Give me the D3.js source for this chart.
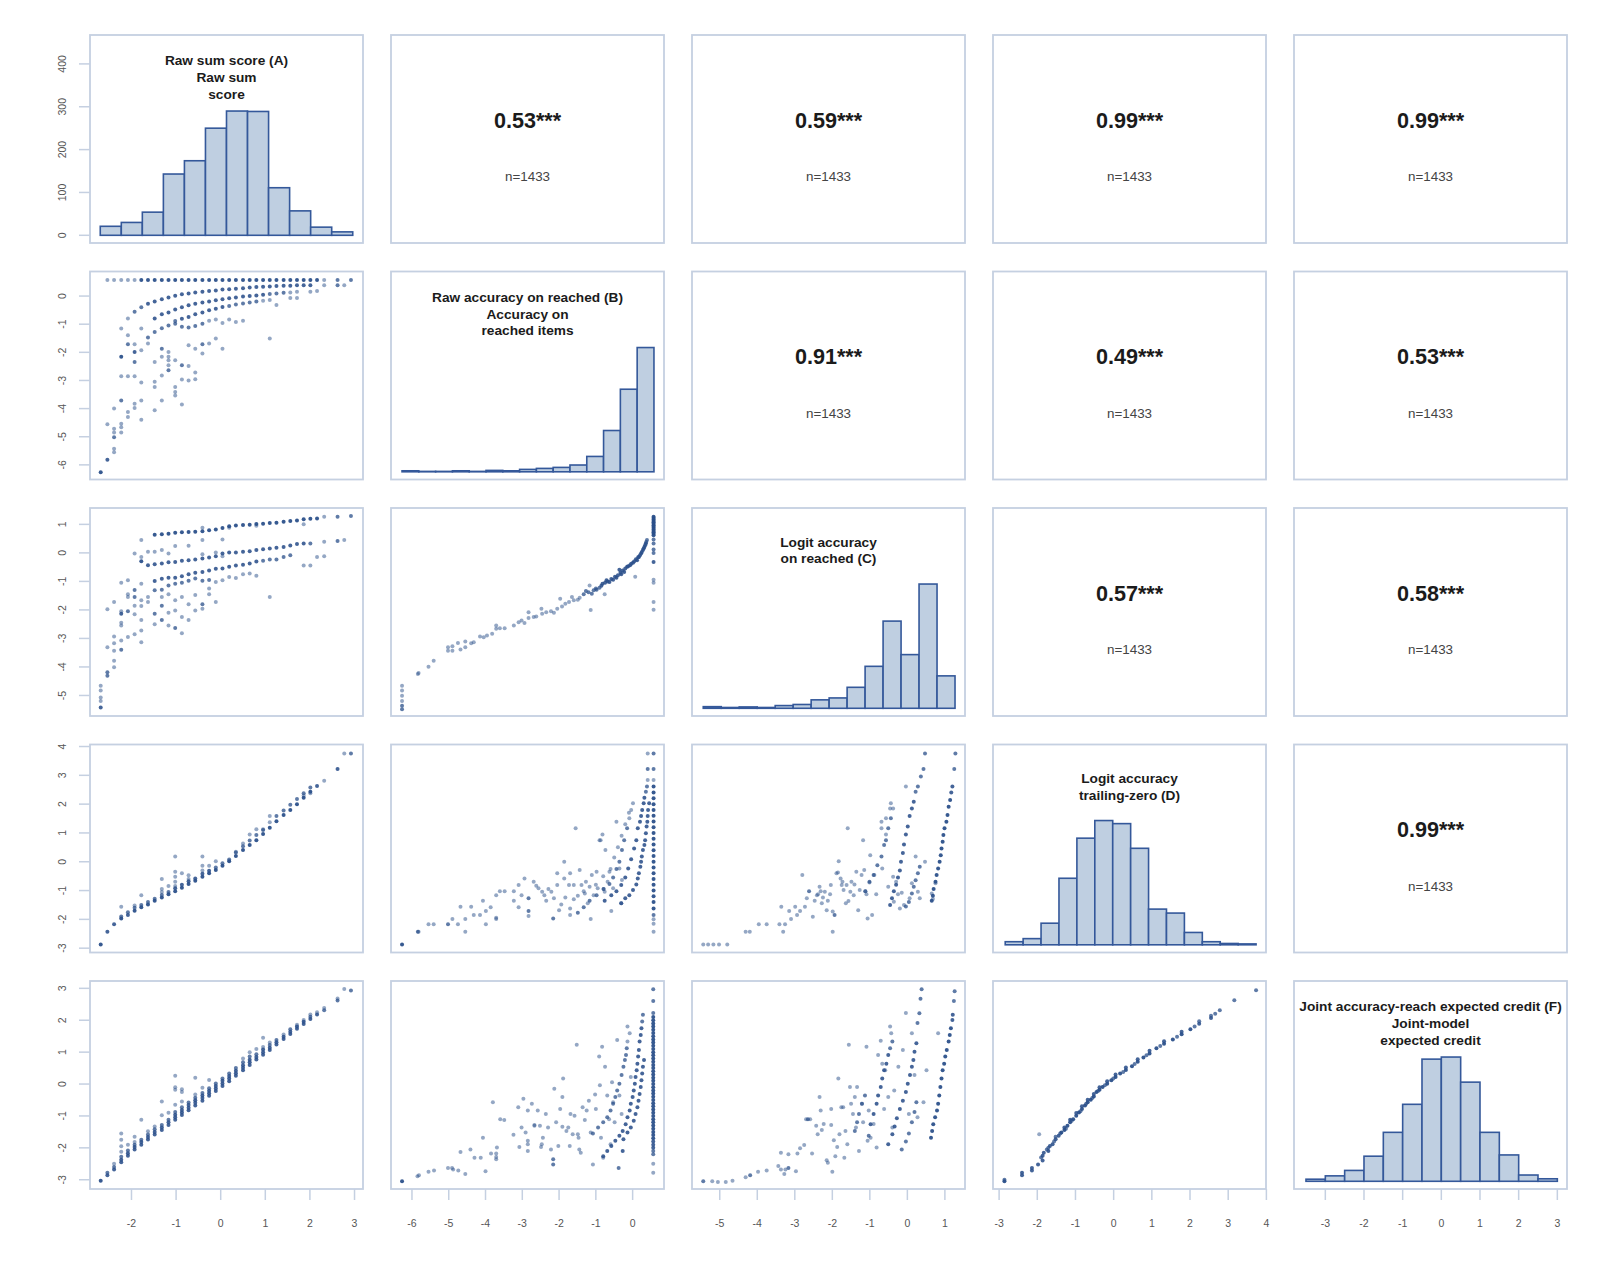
<!DOCTYPE html>
<html>
<head>
<meta charset="utf-8">
<script src="https://cdn.jsdelivr.net/npm/d3@7"></script>
<style>
body { margin: 0; background: #fff; }
svg text { font-family: "Liberation Sans", Arial, Helvetica, sans-serif; }
</style>
</head>
<body>
<div id="chart"></div>
<script>
// ---- data ----
var nObs = 1433;

var titles = [
    ["Raw sum score (A)", "Raw sum", "score"],
    ["Raw accuracy on reached (B)", "Accuracy on", "reached items"],
    ["Logit accuracy", "on reached (C)"],
    ["Logit accuracy", "trailing-zero (D)"],
    ["Joint accuracy-reach expected credit (F)", "Joint-model", "expected credit"]
];

// upper triangle, row by row
var corrText = [
    ["0.53***", "0.59***", "0.99***", "0.99***"],
    ["0.91***", "0.49***", "0.53***"],
    ["0.57***", "0.58***"],
    ["0.99***"]
];

// axis domains per column (x) and per row (y)
var xDomains = [[-2.93, 3.19], [-6.57, 0.853], [-5.74, 1.536], [-3.16, 3.99], [-3.81, 3.25]];
var yDomains = [null, [-6.52, 0.873], [-5.72, 1.574], [-3.15, 4.07], [-3.29, 3.23]];

var xTicks = [[-2, -1, 0, 1, 2, 3], [-6, -5, -4, -3, -2, -1, 0], [-5, -4, -3, -2, -1, 0, 1],
              [-3, -2, -1, 0, 1, 2, 3, 4], [-3, -2, -1, 0, 1, 2, 3]];
var yTicks = [[0, 100, 200, 300, 400], [-6, -5, -4, -3, -2, -1, 0], [-5, -4, -3, -2, -1, 0, 1],
              [-3, -2, -1, 0, 1, 2, 3, 4], [-3, -2, -1, 0, 1, 2, 3]];

// histograms on the diagonal: value range and bin counts
var histRanges = [[-2.70, 2.96], [-6.27, 0.58], [-5.44, 1.27], [-2.84, 3.73], [-3.5, 3.0]];
var histA = [21, 30, 54, 143, 174, 250, 290, 289, 111, 57, 19, 8];
var histB = [5, 2, 2, 5, 2, 7, 5, 12, 17, 22, 34, 77, 207, 414, 623];
var histC = [6, 3, 5, 3, 10, 14, 31, 38, 77, 154, 320, 197, 456, 119];
var histD = [7, 14, 49, 151, 242, 282, 275, 219, 81, 72, 28, 7, 3, 2];
var histF = [5, 13, 26, 60, 117, 184, 292, 297, 237, 117, 63, 15, 6];

// scatter points [x, y, overlap count]
var scatterAB = [
    [-2.54,0.57,1],[-2.39,0.57,1],[-2.23,0.57,1],[-2.08,0.57,1],[-1.93,0.57,1],
    [-1.78,0.57,4],[-1.63,0.57,4],[-1.48,0.57,4],[-1.32,0.57,4],[-1.17,0.57,4],[-1.02,0.57,4],[-0.87,0.57,4],
    [-0.72,0.57,4],[-0.57,0.57,4],[-0.41,0.57,4],[-0.26,0.57,4],[-0.11,0.57,4],[0.04,0.57,4],[0.19,0.57,4],
    [0.34,0.57,4],[0.50,0.57,4],[0.65,0.57,4],[0.80,0.57,4],[0.95,0.57,4],[1.10,0.57,4],[1.25,0.57,4],
    [1.41,0.57,4],[1.56,0.57,4],[1.71,0.57,4],[1.86,0.57,4],[2.01,0.57,4],[2.16,0.57,4],[2.32,0.57,1],
    [2.62,0.57,2],[2.92,0.57,2],
    [-2.08,-0.80,1],[-1.93,-0.56,2],[-1.78,-0.40,2],[-1.63,-0.27,3],[-1.48,-0.19,3],[-1.32,-0.11,3],
    [-1.17,-0.05,3],[-1.02,0.01,3],[-0.87,0.06,3],[-0.72,0.09,3],[-0.57,0.13,3],[-0.41,0.15,3],[-0.26,0.18,3],
    [-0.11,0.20,3],[0.04,0.23,3],[0.19,0.24,3],[0.34,0.26,3],[0.50,0.28,3],[0.65,0.30,3],[0.80,0.32,3],
    [0.95,0.33,3],[1.10,0.34,3],[1.25,0.36,3],[1.41,0.37,3],[1.56,0.37,3],[1.71,0.38,3],[1.86,0.38,3],
    [2.01,0.38,3],[2.32,0.38,1],[2.62,0.38,2],[2.77,0.38,1],
    [-1.48,-0.80,3],[-1.32,-0.65,3],[-1.17,-0.58,3],[-1.02,-0.48,3],[-0.87,-0.40,3],[-0.72,-0.33,3],
    [-0.57,-0.27,3],[-0.41,-0.23,3],[-0.26,-0.19,3],[-0.11,-0.15,3],[0.04,-0.11,3],[0.19,-0.08,3],
    [0.34,-0.05,3],[0.50,-0.02,3],[0.65,0.00,3],[0.80,0.02,3],[0.95,0.05,3],[1.10,0.07,2],[1.25,0.09,2],
    [1.41,0.12,2],[1.56,0.13,1],[1.71,0.15,1],[2.01,0.15,1],[2.16,0.18,1],
    [-1.02,-0.89,2],[-0.87,-0.81,3],[-0.72,-0.74,3],[-0.57,-0.65,3],[-0.41,-0.58,3],[-0.26,-0.50,3],
    [-0.11,-0.45,3],[0.04,-0.39,3],[0.19,-0.35,2],[0.34,-0.30,2],[0.50,-0.26,2],[0.65,-0.23,2],
    [0.80,-0.19,2],[0.95,-0.17,1],[1.10,-0.14,1],[1.25,-0.32,1],[1.56,-0.07,1],[1.71,-0.07,1],
    [-1.63,-1.47,2],[-1.48,-1.28,2],[-1.32,-1.14,2],[-1.17,-1.05,2],[-1.02,-0.98,2],[-0.87,-1.09,2],
    [-0.72,-1.12,2],[-0.57,-1.06,2],[-0.41,-0.98,2],[-0.26,-0.88,1],[-0.11,-0.83,1],[0.04,-0.96,1],
    [0.19,-0.83,1],[0.34,-0.92,1],[0.50,-0.88,1],
    [-2.23,-1.15,1],[-2.08,-1.39,1],[-2.08,-1.71,2],[-1.93,-1.71,1],[-2.23,-2.16,4],[-1.93,-1.99,3],
    [-1.93,-2.34,2],[-1.78,-1.15,1],[-1.78,-1.93,1],[-1.63,-1.69,1],[-1.48,-2.34,1],[-1.32,-1.87,2],
    [-1.32,-2.16,1],[-1.32,-2.82,1],[-1.17,-1.99,1],[-1.17,-2.16,1],[-1.17,-2.28,1],[-1.17,-2.46,1],
    [-1.17,-2.64,2],[-1.02,-2.28,1],[-1.02,-3.23,1],[-1.02,-3.41,1],[-1.02,-3.53,1],[-0.87,-2.46,2],
    [-0.87,-2.97,1],[-0.87,-3.85,1],[-0.72,-2.49,1],[-0.72,-3.0,1],[-0.57,-2.72,1],[-0.57,-2.96,1],
    [-0.41,-1.71,2],[-0.41,-2.04,1],[-0.26,-1.69,1],[-0.11,-1.51,1],[0.04,-1.87,1],[1.10,-1.51,1],
    [-0.57,-1.87,1],[-0.72,-1.75,1],
    [-2.54,-4.56,1],[-2.39,-4.00,1],[-2.39,-4.72,1],[-2.39,-4.85,1],[-2.39,-5.02,2],[-2.39,-5.43,1],
    [-2.39,-5.55,1],[-2.23,-2.85,1],[-2.23,-3.71,2],[-2.23,-4.54,1],[-2.23,-4.66,1],[-2.23,-4.85,1],
    [-2.08,-2.85,1],[-2.08,-4.12,1],[-2.08,-4.30,1],[-1.93,-2.85,1],[-1.93,-3.83,1],[-1.93,-3.98,1],
    [-1.78,-3.07,1],[-1.78,-3.71,1],[-1.78,-4.40,1],[-1.48,-3.05,1],[-1.48,-3.23,1],[-1.48,-4.06,1],
    [-1.32,-3.71,1],[-2.54,-5.82,3],[-2.69,-6.26,4]
];

var scatterAC = [
    [-1.48,0.64,4],[-1.32,0.65,4],[-1.17,0.67,4],[-1.02,0.71,4],[-0.87,0.72,4],[-0.72,0.73,4],[-0.57,0.74,4],
    [-0.41,0.76,4],[-0.26,0.79,4],[-0.11,0.82,4],[0.04,0.87,4],[0.19,0.93,4],[0.34,0.96,4],[0.50,0.98,4],
    [0.65,0.99,4],[0.80,1.01,4],[0.95,1.02,4],[1.10,1.05,4],[1.25,1.06,4],[1.41,1.09,4],[1.56,1.12,4],
    [1.71,1.14,4],[1.86,1.18,4],[2.01,1.20,4],[2.16,1.21,4],[2.32,1.27,1],[2.62,1.27,2],[2.92,1.29,2],
    [-1.78,0.45,1],[-1.02,0.24,1],[-0.72,0.25,1],[-0.41,0.45,1],[-0.41,0.88,1],[0.04,0.47,1],[0.19,0.88,1],
    [0.80,0.95,1],[1.86,1.0,1],
    [-1.78,-0.29,4],[-1.63,-0.43,3],[-1.48,-0.40,3],[-1.32,-0.37,3],[-1.17,-0.33,3],[-1.02,-0.32,3],
    [-0.87,-0.28,3],[-0.72,-0.26,3],[-0.57,-0.23,3],[-0.41,-0.20,3],[-0.26,-0.16,3],[-0.11,-0.12,3],
    [0.04,-0.02,3],[0.19,0.01,3],[0.34,0.01,3],[0.50,0.04,3],[0.65,0.06,3],[0.80,0.10,3],[0.95,0.13,3],
    [1.10,0.15,3],[1.25,0.18,3],[1.41,0.21,3],[1.56,0.26,3],[1.71,0.31,3],[1.86,0.33,3],[2.01,0.33,2],
    [2.32,0.39,1],[2.62,0.42,2],[2.77,0.45,1],
    [-1.78,-0.14,1],[-1.93,-0.02,1],[-1.63,0.04,1],[-1.48,0.04,1],[-1.32,0.10,1],[-1.17,-0.02,1],
    [-0.41,-0.05,1],[-0.11,0.01,1],[0.04,-0.12,1],
    [-1.48,-0.99,3],[-1.32,-0.91,3],[-1.17,-0.87,3],[-1.02,-0.87,3],[-0.87,-0.82,3],[-0.72,-0.75,3],
    [-0.57,-0.70,3],[-0.41,-0.67,3],[-0.26,-0.62,3],[-0.11,-0.56,3],[0.04,-0.55,3],[0.19,-0.49,3],
    [0.34,-0.44,3],[0.50,-0.42,3],[0.65,-0.37,3],[0.80,-0.30,3],[0.95,-0.28,2],[1.10,-0.23,2],
    [1.25,-0.23,2],[1.41,-0.14,2],[1.56,-0.08,2],[1.86,-0.44,1],[2.01,-0.44,1],[2.16,-0.14,1],[2.32,-0.12,1],
    [-1.48,-1.31,2],[-1.32,-1.29,2],[-1.17,-1.14,2],[-1.02,-1.08,2],[-0.87,-1.05,2],[-0.72,-0.98,2],
    [-0.57,-0.90,2],[-0.41,-0.98,2],[-0.26,-0.95,2],[-0.11,-1.02,1],[0.04,-0.96,1],[0.19,-0.85,1],
    [0.34,-0.88,1],[0.50,-0.75,1],[0.65,-0.72,1],[0.80,-0.80,1],[1.10,-1.55,1],
    [-2.54,-1.98,1],[-2.39,-1.72,1],[-2.23,-1.05,1],[-2.23,-2.05,1],[-2.23,-2.13,3],[-2.23,-2.45,1],
    [-2.23,-2.55,1],[-2.08,-0.96,1],[-2.08,-1.45,1],[-2.08,-1.55,1],[-2.08,-2.05,2],[-1.93,-1.30,2],
    [-1.93,-1.55,2],[-1.93,-1.85,1],[-1.93,-2.15,1],[-1.78,-1.08,1],[-1.78,-1.66,1],[-1.78,-1.86,1],
    [-1.78,-2.35,1],[-1.63,-1.55,1],[-1.63,-1.72,1],[-1.48,-2.13,2],[-1.48,-2.50,1],[-1.32,-1.55,1],
    [-1.32,-1.85,2],[-1.32,-2.35,2],[-1.17,-1.45,1],[-1.17,-2.10,1],[-1.17,-2.55,1],[-1.02,-1.66,1],
    [-1.02,-2.02,1],[-1.02,-2.63,2],[-0.87,-1.55,1],[-0.87,-2.25,1],[-0.87,-2.82,1],[-0.72,-1.80,1],
    [-0.72,-2.35,1],[-0.57,-1.48,1],[-0.57,-2.02,1],[-0.41,-1.80,2],[-0.41,-1.96,1],[-0.26,-1.25,1],
    [-0.26,-1.45,1],[-0.11,-1.72,1],
    [-2.54,-3.31,1],[-2.39,-2.93,1],[-2.39,-3.17,1],[-2.39,-3.43,1],[-2.39,-3.78,1],[-2.39,-4.01,1],
    [-2.23,-3.07,1],[-2.23,-3.40,2],[-2.08,-2.95,1],[-1.93,-2.85,1],[-1.78,-3.13,1],[-1.78,-2.72,1],
    [-2.54,-4.19,2],[-2.54,-4.31,2],[-2.69,-4.66,1],[-2.69,-4.83,1],[-2.69,-5.07,1],[-2.69,-5.19,1],[-2.69,-5.42,3]
];

var scatterAD = [
    [-2.69,-2.87,4],[-2.54,-2.43,3],[-2.39,-2.17,3],[-2.23,-1.97,4],[-2.08,-1.85,3],[-1.93,-1.70,4],
    [-1.78,-1.58,4],[-1.63,-1.48,4],[-1.48,-1.35,4],[-1.32,-1.24,4],[-1.17,-1.13,4],[-1.02,-1.02,4],
    [-0.87,-0.90,4],[-0.72,-0.77,4],[-0.57,-0.66,4],[-0.41,-0.52,4],[-0.26,-0.40,4],[-0.11,-0.29,4],
    [0.04,-0.14,4],[0.19,0.02,4],[0.34,0.20,4],[0.50,0.41,4],[0.65,0.58,4],[0.80,0.75,4],[0.95,0.96,4],
    [1.10,1.18,4],[1.25,1.41,4],[1.41,1.62,4],[1.56,1.80,4],[1.71,2.00,4],[1.86,2.22,4],[2.01,2.43,4],
    [2.16,2.63,3],[2.32,2.81,1],[2.62,3.22,3],[2.77,3.76,1],[2.92,3.76,2],
    [-2.23,-1.90,2],[-2.08,-1.75,2],[-1.93,-1.60,2],[-1.78,-1.50,2],[-1.63,-1.40,2],[-1.48,-1.28,2],
    [-1.32,-1.15,2],[-1.17,-1.05,2],[-1.02,-0.92,3],[-0.87,-0.80,3],[-0.72,-0.68,3],[-0.57,-0.58,3],
    [-0.41,-0.42,3],[-0.26,-0.31,3],[-0.11,-0.20,2],[0.04,-0.05,2],[0.19,0.08,2],[0.34,0.32,2],
    [0.50,0.54,2],[0.65,0.74,2],[0.80,0.93,2],[0.95,1.10,2],[1.10,1.37,1],[1.10,1.59,1],[1.25,1.59,2],
    [1.41,1.78,2],[1.56,1.98,2],[1.71,2.18,2],[1.86,2.38,2],[2.01,2.58,2],
    [-2.23,-1.56,1],[-1.78,-1.16,1],[-1.93,-1.52,1],[-1.32,-0.60,1],[-1.32,-0.95,1],[-1.32,-1.05,1],
    [-1.17,-0.84,1],[-1.02,0.18,1],[-1.02,-0.35,1],[-1.02,-0.52,1],[-1.02,-0.69,1],[-1.02,-0.84,1],
    [-0.87,-0.40,1],[-0.72,-0.47,1],[-0.72,-0.60,1],[-0.41,0.18,1],[-0.41,-0.14,1],[-0.41,-0.30,1],
    [-0.26,-0.14,1],[-0.11,0.02,1],[0.34,0.35,1],[0.50,0.63,1],[0.65,0.95,1],[0.80,1.13,1],[0.95,1.13,1],
    [1.86,2.30,1],[2.01,2.38,1]
];

var scatterAF = [
    [-2.69,-3.03,4],[-2.54,-2.86,3],[-2.54,-2.78,2],[-2.39,-2.68,3],[-2.39,-2.60,2],[-2.39,-2.50,1],
    [-2.23,-2.45,3],[-2.23,-2.37,3],[-2.23,-2.28,2],[-2.23,-2.12,1],[-2.23,-1.95,1],[-2.23,-1.75,1],[-2.23,-1.55,1],
    [-2.08,-2.25,3],[-2.08,-2.17,3],[-2.08,-2.08,2],[-2.08,-1.90,1],
    [-1.93,-2.05,3],[-1.93,-1.97,3],[-1.93,-1.90,2],[-1.93,-1.82,1],[-1.93,-1.65,1],
    [-1.78,-1.90,3],[-1.78,-1.82,3],[-1.78,-1.75,2],[-1.78,-1.12,1],
    [-1.63,-1.74,3],[-1.63,-1.66,3],[-1.63,-1.58,2],[-1.63,-1.48,1],
    [-1.48,-1.58,3],[-1.48,-1.50,3],[-1.48,-1.42,2],[-1.48,-1.33,1],
    [-1.32,-1.44,3],[-1.32,-1.36,3],[-1.32,-1.28,2],[-1.32,-0.98,1],[-1.32,-0.55,1],
    [-1.17,-1.28,3],[-1.17,-1.20,3],[-1.17,-1.12,2],[-1.17,-0.90,1],
    [-1.02,-1.12,3],[-1.02,-1.04,3],[-1.02,-0.96,3],[-1.02,-0.88,2],[-1.02,-0.65,1],[-1.02,-0.18,1],[-1.02,-0.10,1],[-1.02,0.26,1],
    [-0.87,-0.97,3],[-0.87,-0.89,3],[-0.87,-0.81,3],[-0.87,-0.73,2],[-0.87,-0.55,1],[-0.87,-0.25,1],[-0.87,-0.16,1],
    [-0.72,-0.82,3],[-0.72,-0.74,3],[-0.72,-0.66,3],[-0.72,-0.58,2],
    [-0.57,-0.67,3],[-0.57,-0.59,3],[-0.57,-0.51,3],[-0.57,-0.43,2],[-0.57,-0.33,1],[-0.57,0.20,1],
    [-0.41,-0.52,3],[-0.41,-0.44,3],[-0.41,-0.36,3],[-0.41,-0.28,2],[-0.41,-0.12,1],
    [-0.26,-0.37,3],[-0.26,-0.29,3],[-0.26,-0.21,3],[-0.26,-0.13,2],[-0.26,0.13,1],
    [-0.11,-0.22,3],[-0.11,-0.14,3],[-0.11,-0.06,3],[-0.11,0.02,2],
    [0.04,-0.06,3],[0.04,0.02,3],[0.04,0.10,3],[0.04,0.17,2],
    [0.19,0.09,3],[0.19,0.17,3],[0.19,0.25,3],[0.19,0.33,2],
    [0.34,0.26,3],[0.34,0.34,3],[0.34,0.42,3],[0.34,0.50,2],
    [0.50,0.43,3],[0.50,0.51,3],[0.50,0.59,3],[0.50,0.68,2],[0.50,0.80,1],
    [0.65,0.60,3],[0.65,0.68,3],[0.65,0.76,3],[0.65,0.86,2],[0.65,1.00,1],
    [0.80,0.77,3],[0.80,0.85,3],[0.80,0.93,2],[0.80,1.10,1],
    [0.95,0.92,3],[0.95,1.00,3],[0.95,1.08,3],[0.95,1.16,1],[0.95,1.45,1],
    [1.10,1.07,3],[1.10,1.14,3],[1.10,1.22,2],[1.10,1.30,1],
    [1.25,1.24,3],[1.25,1.31,3],[1.25,1.38,2],
    [1.41,1.41,3],[1.41,1.48,3],[1.41,1.55,1],
    [1.56,1.57,3],[1.56,1.64,3],[1.56,1.72,2],
    [1.71,1.73,3],[1.71,1.80,3],[1.71,1.86,1],
    [1.86,1.88,3],[1.86,1.95,3],[1.86,2.01,1],
    [2.01,2.04,3],[2.01,2.11,2],[2.01,2.18,1],
    [2.16,2.18,3],[2.16,2.25,1],[2.32,2.31,2],[2.32,2.38,1],
    [2.62,2.62,2],[2.62,2.68,1],[2.77,2.98,1],[2.92,2.93,2]
];

var scatterBC = [
    [-6.27,-4.66,1],[-6.27,-4.83,1],[-6.27,-5.01,1],[-6.27,-5.19,1],[-6.27,-5.36,2],[-6.27,-5.48,2],
    [-5.84,-4.25,1],[-5.82,-4.21,1],[-5.55,-3.99,1],[-5.41,-3.78,1],
    [-5.02,-3.31,1],[-5.02,-3.43,1],[-4.90,-3.27,1],[-4.90,-3.43,1],[-4.75,-3.16,1],[-4.68,-3.39,1],
    [-4.55,-3.11,1],[-4.55,-3.31,1],[-4.39,-3.17,1],[-4.32,-3.13,1],
    [-4.15,-2.93,1],[-4.05,-2.96,1],[-3.96,-2.90,1],[-3.82,-2.84,1],[-3.71,-2.55,1],[-3.71,-2.66,1],
    [-3.61,-2.64,1],[-3.48,-2.64,1],
    [-3.23,-2.55,1],[-3.10,-2.43,1],[-3.02,-2.37,1],[-2.94,-2.46,1],[-2.83,-2.08,1],[-2.83,-2.28,1],
    [-2.69,-2.25,1],[-2.62,-2.23,1],[-2.48,-1.96,1],[-2.46,-2.13,1],[-2.35,-2.08,1],[-2.22,-2.05,1],
    [-2.14,-2.10,1],[-2.05,-1.96,1],[-1.97,-1.61,1],[-1.92,-1.88,1],[-1.83,-1.78,1],[-1.73,-1.72,1],
    [-1.65,-1.55,1],[-1.60,-1.66,1],[-1.49,-1.64,1],[-1.44,-1.57,1],[-1.33,-1.45,2],[-1.27,-1.34,2],
    [-1.17,-1.14,1],[-1.14,-2.0,1],[-1.11,-1.43,2],[-1.06,-1.31,2],[-0.98,-1.29,2],[-0.90,-1.22,2],
    [-0.82,-1.08,3],[-0.76,-1.45,1],[-0.71,-0.96,3],[-0.63,-1.02,3],[-0.53,-0.94,3],[-0.44,-0.87,3],
    [-0.36,-0.59,3],[-0.31,-0.75,3],[-0.23,-0.67,3],[-0.15,-0.49,3],[-0.07,-0.43,3],[0.01,-0.35,3],
    [0.07,-0.84,1],[0.12,-0.26,3],[0.17,-0.14,3],[0.23,-0.02,3],[0.28,0.10,3],[0.32,0.21,3],
    [0.36,0.33,3],[0.39,0.45,2],
    [-1.20,-1.38,2],[-1.00,-1.25,2],[-0.85,-1.15,3],[-0.75,-1.05,3],[-0.68,-1.00,3],[-0.58,-0.92,3],
    [-0.48,-0.84,3],[-0.40,-0.78,3],[-0.33,-0.70,3],[-0.27,-0.62,3],[-0.20,-0.55,3],[-0.12,-0.47,3],
    [-0.04,-0.38,3],[0.04,-0.30,3],[0.09,-0.22,3],[0.15,-0.15,3],[0.20,-0.08,3],[0.25,0.03,3],
    [0.30,0.15,3],[0.34,0.27,3],[0.37,0.38,2],
    [0.57,1.27,4],[0.57,1.22,4],[0.57,1.17,4],[0.57,1.12,4],[0.57,1.07,4],[0.57,1.02,4],[0.57,0.97,4],
    [0.57,0.92,4],[0.57,0.87,4],[0.57,0.82,4],[0.57,0.77,4],[0.57,0.72,4],[0.57,0.67,4],[0.57,0.62,4],
    [0.57,0.47,2],[0.57,0.33,2],[0.57,0.12,2],[0.57,0.0,2],[0.57,-0.32,3],[0.57,-0.94,1],[0.57,-1.05,1],
    [0.57,-1.72,1],[0.57,-1.99,1]
];

var scatterBD = [
    [-6.27,-2.87,4],[-5.84,-2.43,2],[-5.82,-2.43,1],[-5.55,-2.17,1],[-5.41,-2.17,1],
    [-5.02,-2.17,2],[-4.90,-1.99,1],[-4.75,-2.17,1],[-4.68,-1.56,1],[-4.55,-1.99,1],[-4.55,-2.43,1],
    [-4.39,-1.56,1],[-4.32,-1.85,1],[-4.15,-1.85,1],[-4.07,-1.35,1],[-3.99,-1.71,1],[-3.99,-2.17,1],
    [-3.86,-1.58,1],[-3.71,-1.16,1],[-3.71,-1.99,1],[-3.71,-1.94,1],[-3.61,-1.02,1],[-3.48,-1.02,1],
    [-3.23,-1.02,1],[-3.23,-1.35,1],[-3.10,-0.81,1],[-3.10,-1.58,1],[-3.02,-1.16,1],[-2.94,-0.58,1],
    [-2.83,-1.27,2],[-2.83,-1.71,2],[-2.83,-1.88,1],[-2.69,-0.69,1],[-2.62,-0.83,1],[-2.56,-0.92,1],
    [-2.46,-1.04,1],[-2.40,-1.16,1],[-2.35,-1.35,1],[-2.29,-0.95,1],[-2.21,-1.04,1],[-2.16,-1.97,2],
    [-2.14,-1.27,1],[-2.05,-0.40,1],[-2.05,-0.81,1],[-2.00,-1.68,1],[-1.94,-1.48,1],[-1.86,0.0,1],
    [-1.86,-0.58,1],[-1.83,-1.24,1],[-1.73,-0.81,1],[-1.70,-0.40,1],[-1.70,-1.62,1],[-1.70,-1.85,1],
    [-1.60,-0.81,1],[-1.55,1.16,1],[-1.49,-1.18,1],[-1.44,-0.29,1],[-1.39,-0.81,1],[-1.33,-1.02,1],
    [-1.27,-0.69,1],[-1.22,-1.44,1],[-1.17,-0.87,1],[-1.14,-1.99,1],[-1.11,-0.46,1],[-1.06,-1.16,1],
    [-0.98,-0.35,1],[-0.95,-0.92,1],[-0.90,0.75,1],[-0.87,0.75,1],[-0.82,0.95,1],[-0.79,-0.95,1],
    [-0.76,-1.04,1],[-0.74,0.41,1],[-0.68,-0.69,1],[-0.63,-0.35,1],[-0.58,-1.71,1],[-0.53,-0.92,1],
    [-0.44,1.39,1],[-0.36,-0.23,1],[-0.31,-1.44,1],[-0.29,-0.63,1],
    [-1.49,-1.77,2],[-1.33,-1.58,2],[-1.17,-1.35,2],[-0.98,-1.16,2],[-0.79,-0.95,2],[-0.63,-0.77,2],
    [-0.53,-0.55,2],[-0.44,-0.25,2],[-0.36,0.0,2],[-0.29,0.41,2],[-0.23,0.75,2],[-0.15,1.16,2],
    [-0.09,1.51,1],[-0.04,1.80,1],[0.01,2.03,1],
    [-0.76,-1.35,3],[-0.58,-1.16,3],[-0.44,-1.02,3],[-0.31,-0.81,3],[-0.20,-0.55,3],[-0.12,-0.23,3],
    [-0.04,0.09,3],[0.04,0.46,3],[0.10,0.75,3],[0.14,1.16,3],[0.20,1.39,3],[0.23,1.59,3],[0.26,1.80,3],
    [0.30,2.03,3],[0.32,2.22,3],[0.36,2.43,2],[0.39,2.61,2],[0.41,2.84,1],[0.41,3.22,2],[0.41,3.76,1],
    [-0.31,-1.44,3],[-0.20,-1.27,3],[-0.09,-1.16,3],[0.01,-0.98,3],[0.10,-0.79,3],[0.14,-0.58,3],
    [0.17,-0.40,3],[0.21,-0.17,3],[0.23,0.0,3],[0.25,0.18,3],[0.28,0.41,3],[0.32,0.58,3],[0.34,0.75,3],
    [0.36,0.99,3],[0.38,1.22,3],[0.40,1.39,3],[0.41,1.59,3],[0.42,1.80,3],[0.45,2.03,3],
    [-1.60,-1.30,1],[-1.30,-1.10,1],[-1.0,-0.80,1],[-0.80,-0.50,1],[-0.60,-0.25,1],[-0.50,0.15,1],
    [-0.40,0.50,1],[-0.30,0.90,1],[-0.20,1.30,1],[-0.10,1.70,1],
    [0.57,2.61,4],[0.57,2.40,4],[0.57,2.20,4],[0.57,2.00,4],[0.57,1.80,4],[0.57,1.60,4],[0.57,1.40,4],
    [0.57,1.20,4],[0.57,1.00,4],[0.57,0.80,4],[0.57,0.60,4],[0.57,0.40,4],[0.57,0.20,4],[0.57,0.0,4],
    [0.57,-0.20,4],[0.57,-0.40,4],[0.57,-0.60,4],[0.57,-0.80,4],[0.57,-1.00,4],[0.57,-1.20,4],
    [0.57,-1.40,4],[0.57,-1.62,4],[0.57,-1.85,2],[0.57,-2.0,1],[0.57,-2.15,1],[0.57,-2.43,1],
    [0.57,2.84,1],[0.57,3.22,2],[0.57,3.76,2]
];

var scatterBF = [
    [-6.27,-3.05,4],[-5.85,-2.89,1],[-5.81,-2.86,1],[-5.55,-2.75,1],[-5.40,-2.71,1],[-5.02,-2.63,1],
    [-4.91,-2.63,1],[-4.88,-2.68,1],[-4.74,-2.71,1],[-4.55,-2.82,1],
    [-4.68,-2.13,1],[-4.41,-2.05,1],[-4.30,-2.31,1],[-4.13,-2.31,1],[-4.07,-1.68,1],[-4.00,-2.73,1],
    [-3.85,-2.18,1],[-3.80,-0.57,1],[-3.71,-2.18,1],[-3.71,-2.29,1],[-3.71,-2.36,1],[-3.69,-1.99,1],
    [-3.60,-1.10,1],[-3.49,-1.13,1],[-3.24,-1.59,1],[-3.11,-0.73,1],[-3.08,-1.97,1],[-3.02,-1.36,1],
    [-2.97,-0.46,1],[-2.91,-1.52,1],[-2.85,-0.83,1],[-2.85,-1.78,1],[-2.85,-1.89,1],[-2.85,-2.10,1],
    [-2.74,-0.62,1],[-2.67,-1.28,1],[-2.67,-1.31,1],[-2.58,-0.83,1],[-2.52,-1.31,1],[-2.49,-1.97,1],
    [-2.47,-1.89,1],[-2.44,-1.68,1],[-2.36,-0.94,1],[-2.30,-1.36,1],[-2.22,-2.05,1],[-2.16,-2.52,2],
    [-2.16,-2.36,2],[-2.13,-0.15,1],[-2.08,-1.20,1],[-2.02,-1.94,1],[-1.97,-0.78,1],[-1.91,-0.41,1],
    [-1.91,-1.34,1],[-1.89,0.17,1],[-1.80,-1.47,1],[-1.75,-1.36,1],[-1.71,-1.94,1],[-1.69,-0.94,1],
    [-1.63,-1.57,1],[-1.58,-0.99,1],[-1.52,1.23,1],[-1.49,-1.57,1],[-1.47,-1.68,1],[-1.45,-2.05,1],
    [-1.41,-2.15,1],[-1.36,-0.73,1],[-1.30,-1.13,1],[-1.25,-0.83,1],[-1.19,-0.52,1],[-1.14,-1.52,1],
    [-1.08,-2.52,1],[-1.02,-0.33,1],[-1.00,-0.78,1],[-0.91,0.86,1],[-0.89,-0.04,1],[-0.86,-1.68,1],
    [-0.83,1.17,1],[-0.80,-2.31,1],[-0.75,0.54,1],[-0.69,-0.36,1],[-0.64,-1.10,1],[-0.60,-1.89,1],
    [-0.56,0.06,1],[-0.53,-0.57,1],[-0.49,-1.20,1],[-0.42,1.38,1],[-0.36,-0.36,1],[-0.30,-0.94,1],
    [-0.14,1.80,1],[-0.08,1.59,1],[-0.05,0.22,1],
    [-1.08,-1.55,2],[-0.94,-1.36,2],[-0.80,-1.20,2],[-0.69,-1.04,2],[-0.60,-0.83,2],[-0.53,-0.62,2],
    [-0.47,-0.41,2],[-0.42,-0.20,2],[-0.36,0.01,2],[-0.30,0.28,2],[-0.25,0.54,2],[-0.21,0.75,2],
    [-0.18,0.91,2],[-0.16,1.12,2],[-0.14,1.33,1],
    [-0.80,-2.26,3],[-0.69,-2.10,3],[-0.58,-1.94,3],[-0.47,-1.78,3],[-0.36,-1.62,3],[-0.27,-1.47,3],
    [-0.19,-1.26,3],[-0.14,-1.04,3],[-0.08,-0.83,3],[-0.05,-0.62,3],[0.00,-0.41,3],[0.03,-0.20,3],
    [0.06,0.01,3],[0.08,0.22,3],[0.11,0.43,3],[0.13,0.64,3],[0.15,0.86,3],[0.17,1.07,3],[0.19,1.33,3],
    [0.22,1.54,3],[0.24,1.75,3],[0.26,1.96,2],[0.28,2.17,2],
    [-0.38,-2.63,2],[-0.27,-2.10,3],[-0.25,-1.73,3],[-0.14,-1.52,3],[-0.05,-1.36,3],[0.03,-1.15,3],
    [0.08,-0.94,3],[0.13,-0.73,3],[0.16,-0.52,3],[0.19,-0.31,3],[0.22,-0.09,3],[0.24,0.12,3],
    [0.26,0.33,3],[0.28,0.54,3],[0.31,0.75,3],
    [0.56,2.1,4],[0.56,2.0,4],[0.56,1.9,4],[0.56,1.8,4],[0.56,1.7,4],[0.56,1.6,4],[0.56,1.5,4],
    [0.56,1.4,4],[0.56,1.3,4],[0.56,1.2,4],[0.56,1.1,4],[0.56,1.0,4],[0.56,0.9,4],[0.56,0.8,4],
    [0.56,0.7,4],[0.56,0.6,4],[0.56,0.5,4],[0.56,0.4,4],[0.56,0.3,4],[0.56,0.2,4],[0.56,0.1,4],
    [0.56,0.0,4],[0.56,-0.1,4],[0.56,-0.2,4],[0.56,-0.3,4],[0.56,-0.4,4],[0.56,-0.5,4],[0.56,-0.6,4],
    [0.56,-0.7,4],[0.56,-0.8,4],[0.56,-0.9,4],[0.56,-1.0,4],[0.56,-1.1,4],[0.56,-1.2,4],[0.56,-1.3,4],
    [0.56,-1.4,4],[0.56,-1.5,4],[0.56,-1.6,4],[0.56,-1.7,4],[0.56,-1.8,3],[0.56,-1.9,3],[0.56,-2.0,3],
    [0.56,-2.1,2],[0.56,-2.2,2],[0.56,-2.50,1],[0.56,-2.78,1],[0.56,2.23,2],[0.56,2.60,2],[0.56,2.97,2]
];

var scatterCD = [
    [-5.44,-2.87,1],[-5.31,-2.87,1],[-5.17,-2.87,1],[-5.02,-2.87,1],[-4.80,-2.87,1],[-4.20,-2.43,1],[-4.31,-2.43,1],
    [-3.96,-2.17,1],[-3.75,-2.17,1],[-3.41,-2.17,1],[-3.31,-2.43,1],[-3.26,-2.17,1],[-3.10,-1.99,1],
    [-3.36,-1.56,1],[-3.15,-1.71,1],[-2.99,-1.56,1],[-2.94,-1.85,1],[-2.86,-1.71,1],[-2.80,-0.46,1],
    [-2.73,-1.56,1],[-2.68,-1.27,1],[-2.62,-1.02,2],[-2.52,-1.91,1],[-2.47,-1.35,1],[-2.41,-1.16,1],
    [-2.38,-1.13,1],[-2.34,-0.87,1],[-2.31,-1.02,1],[-2.28,-1.44,1],[-2.25,-1.24,1],[-2.20,-1.04,1],
    [-2.15,-1.68,1],[-2.12,-1.35,1],[-2.06,-1.13,1],[-2.04,-0.81,1],[-1.99,-2.43,1],[-1.99,-1.73,1],
    [-1.94,-1.85,2],[-1.89,-0.40,1],[-1.85,-0.37,1],[-1.83,0.02,1],[-1.78,-0.58,1],[-1.75,-0.81,1],
    [-1.73,-0.69,1],[-1.70,-0.98,1],[-1.64,-1.44,1],[-1.62,-0.81,1],[-1.59,1.16,1],[-1.57,-1.36,1],
    [-1.52,-1.04,1],[-1.49,-0.69,1],[-1.43,-1.16,1],[-1.41,-0.79,1],[-1.36,-0.35,1],[-1.31,-1.68,1],
    [-1.27,-0.98,1],[-1.22,-0.46,1],[-1.18,0.75,1],[-1.15,-0.29,1],[-1.12,-1.02,1],[-1.09,-1.13,1],
    [-1.06,-1.97,1],[-1.01,-0.72,1],[-0.99,0.23,1],[-0.94,-1.85,1],[-0.88,-0.46,1],[-0.83,-1.13,1],
    [-0.69,1.39,1],[-0.67,-0.23,1],[-0.57,0.95,1],[-0.51,-0.87,1],[-0.44,2.03,1],[-0.38,-0.52,1],
    [-0.36,-1.39,1],[-0.30,-0.69,1],[-0.25,-1.13,1],[-0.20,-1.62,1],[-0.15,-1.08,1],[-0.09,-1.50,1],
    [-0.04,2.61,1],[0.06,-1.27,1],[0.12,-0.75,1],[0.22,0.18,1],[0.28,-1.04,1],[0.33,-1.27,1],
    [0.47,0.0,1],[0.65,-1.10,1],[0.68,-1.29,1],[0.75,-0.75,1],
    [-1.12,-1.02,2],[-1.01,-0.69,2],[-0.90,-0.46,2],[-0.80,-0.12,2],[-0.69,0.18,2],[-0.62,0.58,2],
    [-0.57,0.75,2],[-0.51,1.16,2],[-0.44,1.51,2],[-0.38,1.85,1],
    [-0.46,-1.50,3],[-0.41,-1.27,3],[-0.36,-1.02,3],[-0.30,-0.80,3],[-0.25,-0.55,3],[-0.20,-0.30,3],
    [-0.17,0.0,3],[-0.12,0.30,3],[-0.09,0.60,3],[-0.04,0.95,3],[0.01,1.22,3],[0.06,1.59,3],[0.12,1.85,3],
    [0.17,2.08,3],[0.22,2.43,2],[0.28,2.61,2],[0.36,2.96,2],[0.43,3.22,2],[0.47,3.76,2],
    [-0.04,-1.55,2],[0.04,-1.40,2],[0.12,-1.10,2],[0.17,-0.87,2],[0.22,-0.64,2],[0.28,-0.40,2],[0.33,-0.17,2],
    [0.65,-1.35,4],[0.68,-1.18,4],[0.70,-0.95,4],[0.75,-0.69,4],[0.78,-0.46,4],[0.82,-0.23,4],[0.86,0.0,4],
    [0.89,0.23,4],[0.91,0.46,4],[0.94,0.69,4],[0.96,0.93,4],[0.99,1.16,4],[1.04,1.39,4],[1.07,1.62,4],
    [1.10,1.91,4],[1.14,2.14,4],[1.17,2.40,3],[1.20,2.61,3],[1.25,3.22,2],[1.28,3.76,2],
    [-0.69,1.16,1],[-0.57,1.51,1],[-0.46,1.85,1]
];

var scatterCF = [
    [-5.44,-3.05,2],[-5.20,-3.05,1],[-5.05,-3.07,1],[-4.84,-3.07,1],[-4.66,-3.03,1],[-4.31,-2.92,1],
    [-4.19,-2.86,2],[-3.98,-2.75,1],[-3.75,-2.71,1],
    [-3.44,-2.57,1],[-3.37,-2.68,1],[-3.25,-2.68,1],[-3.17,-2.63,2],[-2.97,-2.73,1],[-3.28,-2.82,1],
    [-3.37,-2.15,1],[-3.17,-2.20,1],[-2.93,-2.18,1],[-2.86,-2.01,1],[-2.75,-1.91,1],[-2.70,-1.10,1],
    [-2.65,-1.10,2],[-2.59,-1.10,1],[-2.54,-2.18,1],[-2.43,-1.31,1],[-2.39,-1.57,1],[-2.34,-0.41,1],
    [-2.31,-0.83,1],[-2.28,-1.44,1],[-2.23,-1.25,1],[-2.15,-2.39,1],[-2.12,-2.47,1],[-2.03,-0.78,1],
    [-2.03,-1.28,1],[-2.00,-2.75,1],[-1.96,-1.76,1],[-1.92,-2.26,1],[-1.87,-1.97,1],[-1.84,0.17,1],
    [-1.81,-1.57,1],[-1.76,-0.73,1],[-1.71,-0.73,1],[-1.68,-2.31,1],[-1.65,-1.47,1],[-1.60,-1.89,1],
    [-1.56,1.23,1],[-1.53,-0.09,1],[-1.50,-0.62,1],[-1.45,-0.94,1],[-1.40,-0.41,1],[-1.37,-1.36,1],
    [-1.34,-0.09,1],[-1.29,-2.10,1],[-1.21,-0.62,1],[-1.18,-1.20,1],[-1.09,1.17,1],[-1.06,-1.78,1],
    [-1.03,-0.83,1],[-0.98,-1.68,1],[-0.90,-1.25,1],[-0.82,-1.99,1],[-0.78,0.91,1],[-0.71,1.36,1],
    [-0.67,0.64,1],[-0.62,-0.78,1],[-0.59,0.43,1],[-0.51,-0.41,1],[-0.46,1.80,1],[-0.43,1.59,1],
    [-0.40,-1.36,1],[-0.35,-0.20,1],[-0.24,0.54,1],[-0.12,1.07,1],[-0.04,2.23,1],[0.04,-0.94,1],
    [0.12,1.59,1],[0.19,0.28,1],[0.27,-1.04,1],[0.43,-0.57,1],[0.51,0.43,1],[0.82,1.59,1],
    [-1.40,-1.47,2],[-1.34,-1.20,2],[-1.29,-0.94,2],[-1.21,-0.62,2],[-1.13,-0.36,2],
    [-1.03,-1.62,2],[-0.98,-1.26,3],[-0.90,-0.94,3],[-0.82,-0.62,3],[-0.78,-0.36,3],[-0.71,-0.09,3],
    [-0.67,0.17,3],[-0.62,0.43,3],[-0.56,0.64,3],[-0.51,0.91,3],[-0.46,1.12,2],[-0.40,1.33,2],
    [-0.51,-1.89,3],[-0.40,-1.57,3],[-0.34,-1.33,3],[-0.28,-1.07,3],[-0.20,-0.78,3],[-0.12,-0.52,3],
    [-0.04,-0.25,3],[0.01,0.01,3],[0.07,0.28,3],[0.12,0.54,3],[0.16,0.75,3],[0.19,1.01,3],[0.24,1.28,3],
    [0.27,1.91,2],[0.32,2.22,2],[0.35,2.67,2],[0.38,2.97,2],
    [-0.15,-2.05,2],[-0.04,-1.80,2],[0.04,-1.55,2],[0.12,-1.20,2],[0.19,-0.88,2],[0.24,-0.57,2],
    [0.63,-1.68,4],[0.66,-1.47,4],[0.69,-1.26,4],[0.74,-1.04,4],[0.79,-0.83,4],[0.82,-0.62,4],
    [0.85,-0.36,4],[0.88,-0.09,4],[0.91,0.17,4],[0.94,0.43,4],[0.98,0.64,4],[1.01,0.86,4],[1.05,1.07,4],
    [1.10,1.33,4],[1.13,1.54,4],[1.16,1.75,4],[1.20,2.01,3],[1.21,2.17,3],[1.24,2.60,2],[1.26,2.91,2]
];

var scatterDF = [
    [-2.86,-3.05,4],[-2.86,-3.00,2],[-2.40,-2.86,3],[-2.40,-2.78,3],[-2.14,-2.71,3],[-2.14,-2.63,3],
    [-1.98,-2.52,3],[-1.95,-1.57,1],[-1.86,-2.40,3],[-1.86,-2.25,3],[-1.83,-2.15,3],[-1.71,-2.10,3],
    [-1.67,-1.94,3],[-1.60,-1.89,3],[-1.52,-1.73,3],[-1.44,-1.62,3],[-1.37,-1.52,4],[-1.29,-1.44,4],
    [-1.21,-1.31,4],[-1.14,-1.20,4],[-1.06,-1.10,4],[-0.98,-0.99,4],[-0.91,-0.89,4],[-0.83,-0.78,4],
    [-0.75,-0.67,4],[-0.68,-0.57,4],[-0.60,-0.49,4],[-0.52,-0.39,4],[-0.45,-0.25,4],[-0.37,-0.18,4],
    [-0.29,-0.09,4],[-0.17,0.01,4],[-0.06,0.12,4],[0.05,0.22,4],[0.17,0.33,4],[0.32,0.44,4],[0.48,0.56,4],
    [0.63,0.70,4],[0.78,0.83,4],[0.94,0.96,4],[1.12,1.12,4],[1.32,1.26,4],[1.55,1.40,4],[1.78,1.56,4],
    [2.01,1.72,4],[2.24,1.89,3],[2.55,2.07,3],[2.78,2.31,2],[3.16,2.63,2],[3.73,2.94,2],
    [-1.71,-2.0,2],[-1.52,-1.65,2],[-1.29,-1.36,3],[-1.14,-1.12,3],[-0.98,-0.91,3],[-0.83,-0.70,3],
    [-0.68,-0.49,3],[-0.52,-0.31,3],[-0.37,-0.10,3],[-0.17,0.09,3],[0.05,0.30,3],[0.32,0.52,3],
    [0.63,0.78,3],[0.94,1.04,3],[1.32,1.34,3],[1.78,1.64,3],[2.24,1.97,2],[2.55,2.14,2],
    [-1.90,-2.30,2],[-1.75,-2.05,2],[-1.56,-1.80,2],[-1.40,-1.55,2],[-1.25,-1.40,2],[-1.10,-1.15,2],
    [-0.87,-0.85,2],[-0.72,-0.62,2],[-0.56,-0.44,2],[-0.41,-0.22,2],[-0.23,-0.04,2],[-0.01,0.17,2],
    [0.25,0.38,2],[0.55,0.63,2],[0.86,0.90,2],[1.22,1.19,2],[1.66,1.48,2],[2.12,1.80,2],[2.66,2.2,2]
];

// ---- layout ----
var width = 1600, height = 1280;
var colLeft = [90, 391, 692, 993, 1294], panelW = 273;
var rowTop = [35, 271.5, 508, 744.5, 981], panelH = 208;

var borderColor = "#c5d0e1";
var pointColor = "#2a4f8a";
var histFill = "#bfcfe1", histStroke = "#34589a";
var tickText = "#555";

var hists = [histA, histB, histC, histD, histF];
var scatters = {
    "1,0": scatterAB, "2,0": scatterAC, "3,0": scatterAD, "4,0": scatterAF,
    "2,1": scatterBC, "3,1": scatterBD, "4,1": scatterBF,
    "3,2": scatterCD, "4,2": scatterCF,
    "4,3": scatterDF
};

var svg = d3.select("#chart").append("svg")
    .attr("width", width)
    .attr("height", height);

var xScales = xDomains.map(function(dom, j) {
    return d3.scaleLinear().domain(dom).range([colLeft[j], colLeft[j] + panelW]);
});
var yScales = yDomains.map(function(dom, i) {
    if (!dom) return null;
    return d3.scaleLinear().domain(dom).range([rowTop[i] + panelH, rowTop[i]]);
});

// count scale for a diagonal histogram (leaves headroom for the title)
function countScale(i) {
    var top = d3.max(hists[i]) * 1.55;
    return d3.scaleLinear()
        .domain([-0.04 * top, top * 1.04])
        .range([rowTop[i] + panelH, rowTop[i]]);
}

for (var i = 0; i < 5; i++) {
    for (var j = 0; j < 5; j++) {
        var g = svg.append("g");
        var px = colLeft[j], py = rowTop[i];
        var cx = px + panelW / 2;

        if (i === j) {
            // histogram
            var counts = hists[i];
            var lo = histRanges[i][0], hi = histRanges[i][1];
            var step = (hi - lo) / counts.length;
            var yc = countScale(i);
            g.selectAll("rect").data(counts).enter().append("rect")
                .attr("x", function(d, k) { return xScales[j](lo + k * step); })
                .attr("width", function(d, k) { return xScales[j](lo + (k + 1) * step) - xScales[j](lo + k * step); })
                .attr("y", function(d) { return yc(d); })
                .attr("height", function(d) { return yc(0) - yc(d); })
                .style("fill", histFill)
                .style("stroke", histStroke)
                .style("stroke-width", 1.6);

            var lines = titles[i];
            lines.forEach(function(t, k) {
                g.append("text")
                    .attr("x", cx)
                    .attr("y", py + 42.5 + (k - (lines.length - 1) / 2) * 16.6)
                    .attr("text-anchor", "middle")
                    .attr("dominant-baseline", "central")
                    .style("font-size", "13.7px")
                    .style("font-weight", "bold")
                    .style("fill", "#1b1b1b")
                    .text(t);
            });
        } else if (i < j) {
            // correlation text
            g.append("text")
                .attr("x", cx)
                .attr("y", py + 85)
                .attr("text-anchor", "middle")
                .attr("dominant-baseline", "central")
                .style("font-size", "21.6px")
                .style("font-weight", "bold")
                .style("fill", "#1b1b1b")
                .text(corrText[i][j - i - 1]);
            g.append("text")
                .attr("x", cx)
                .attr("y", py + 141.5)
                .attr("text-anchor", "middle")
                .attr("dominant-baseline", "central")
                .style("font-size", "13.4px")
                .style("fill", "#444")
                .text("n=" + nObs);
        } else {
            // scatter
            var pts = scatters[i + "," + j];
            var xs = xScales[j], ys = yScales[i];
            g.selectAll("circle").data(pts).enter().append("circle")
                .attr("cx", function(d) { return xs(d[0]); })
                .attr("cy", function(d) { return ys(d[1]); })
                .attr("r", 2.0)
                .style("fill", pointColor)
                .style("opacity", function(d) { return 1 - Math.pow(0.5, d[2]); });
        }

        // panel box
        g.append("rect")
            .attr("x", px)
            .attr("y", py)
            .attr("width", panelW)
            .attr("height", panelH)
            .style("fill", "none")
            .style("stroke", borderColor)
            .style("stroke-width", 1.8);
    }
}

// y axes on the left column
for (var r = 0; r < 5; r++) {
    var ysc = r === 0 ? countScale(0) : yScales[r];
    var ax = svg.append("g");
    yTicks[r].forEach(function(t) {
        var y = ysc(t);
        ax.append("line")
            .attr("x1", 79).attr("x2", 90)
            .attr("y1", y).attr("y2", y)
            .style("stroke", borderColor)
            .style("stroke-width", 1.5);
        ax.append("text")
            .attr("transform", "translate(62," + y + ") rotate(-90)")
            .attr("text-anchor", "middle")
            .attr("dominant-baseline", "central")
            .style("font-size", "10.5px")
            .style("fill", tickText)
            .text(t);
    });
}

// x axes along the bottom row
var bottom = rowTop[4] + panelH;
for (var c = 0; c < 5; c++) {
    var axb = svg.append("g");
    var xsc = xScales[c];
    xTicks[c].forEach(function(t) {
        var x = xsc(t);
        axb.append("line")
            .attr("x1", x).attr("x2", x)
            .attr("y1", bottom).attr("y2", bottom + 11)
            .style("stroke", borderColor)
            .style("stroke-width", 1.5);
        axb.append("text")
            .attr("x", x)
            .attr("y", bottom + 34)
            .attr("text-anchor", "middle")
            .attr("dominant-baseline", "central")
            .style("font-size", "10.5px")
            .style("fill", tickText)
            .text(t);
    });
}
</script>
</body>
</html>
